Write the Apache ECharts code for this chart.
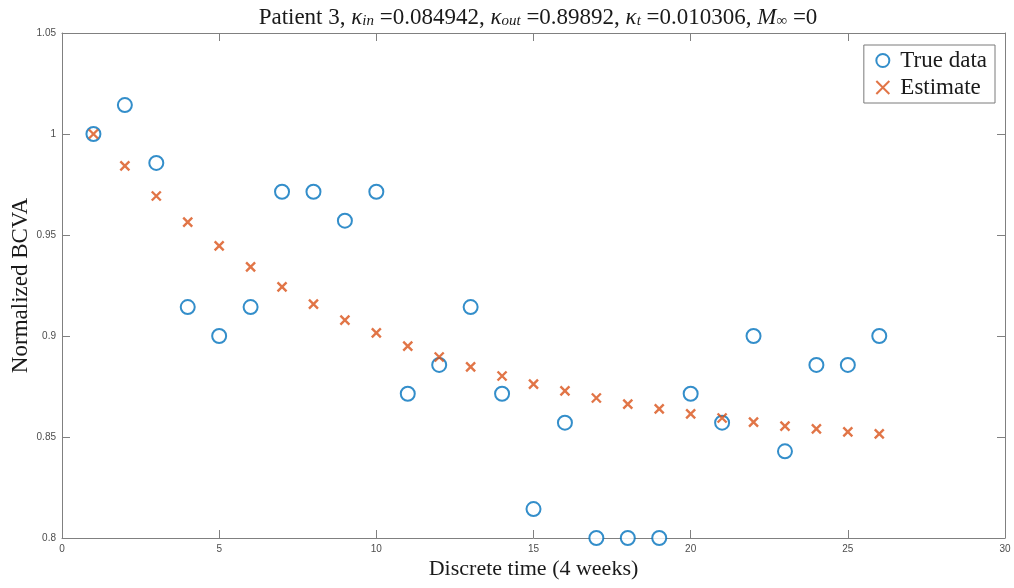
<!DOCTYPE html>
<html><head><meta charset="utf-8">
<script src="https://cdn.jsdelivr.net/npm/echarts@6/dist/echarts.min.js"></script>
<style>html,body{margin:0;padding:0;background:#fff}#c{width:1014px;height:588px}</style>
</head><body><div id="c"></div>
<script>
const times = [1,2,3,4,5,6,7,8,9,10,11,12,13,14,15,16,17,18,19,20,21,22,23,24,25,26];
const trueData = [1.0,1.0143,0.9857,0.9143,0.9,0.9143,0.9714,0.9714,0.9571,0.9714,0.8714,0.8857,0.9143,0.8714,0.8143,0.8571,0.8,0.8,0.8,0.8714,0.8571,0.9,0.8429,0.8857,0.8857,0.9];
const estimate = [1.0,0.9842,0.9693,0.9564,0.9446,0.9342,0.9243,0.9158,0.9079,0.9015,0.895,0.8896,0.8847,0.8802,0.8762,0.8728,0.8693,0.8663,0.8639,0.8614,0.8594,0.8574,0.8554,0.854,0.8525,0.8515];
const xTicks = [0,5,10,15,20,25,30];
const yTicks = [0.8,0.85,0.9,0.95,1,1.05];

const serif = '"Liberation Serif","DejaVu Serif",serif';
const sans = '"Liberation Sans",Arial,sans-serif';
const axisCol = '#808080';
const chart = echarts.init(document.getElementById('c'));
const pair = arr => arr.map((v,i)=>[times[i], v]);
const common = {
  axisLine:{show:true,onZero:false,lineStyle:{color:axisCol,width:1}},
  axisTick:{show:true,inside:true,length:8,lineStyle:{color:axisCol}},
  splitLine:{show:false}
};
chart.setOption({
  animation:false,
  backgroundColor:'#fff',
  title:{
    text:'Patient 3, {i|κ}{s|in} =0.084942, {i|κ}{s|out} =0.89892, {i|κ}{s|t} =0.010306, {i|M}{s|∞} =0',
    left:533, textAlign:'center', top:1,
    textStyle:{fontFamily:serif,fontSize:23,fontWeight:'normal',color:'#1a1a1a',
      rich:{
        i:{fontFamily:serif,fontSize:23,fontStyle:'italic',color:'#1a1a1a'},
        s:{fontFamily:serif,fontSize:15,fontStyle:'italic',color:'#1a1a1a',verticalAlign:'bottom',lineHeight:4}
      }}
  },
  legend:{
    orient:'vertical', right:19, top:45,
    padding:[4,8,4,10], itemGap:4, itemWidth:13, itemHeight:13,
    borderColor:'#7a7a7a', borderWidth:1, backgroundColor:'#fff',
    textStyle:{fontFamily:serif,fontSize:23,color:'#1a1a1a',padding:[0,0,0,6]},
    data:['True data','Estimate']
  },
  grid:{left:62,right:9,top:33,bottom:50,containLabel:false,outerBoundsMode:'none'},
  xAxis:[
    Object.assign({type:'value',min:0,max:30,interval:5,position:'bottom',
      name:'Discrete time (4 weeks)',nameLocation:'middle',nameGap:20,nameMoveOverlap:false,
      nameTextStyle:{fontFamily:serif,fontSize:22,color:'#1a1a1a'},
      axisLabel:{fontFamily:sans,fontSize:10,color:'#4d4d4d',margin:6}},common),
    Object.assign({type:'value',min:0,max:30,interval:5,position:'top',axisLabel:{show:false}},common)
  ],
  yAxis:[
    Object.assign({type:'value',min:0.8,max:1.05,interval:0.05,position:'left',
      name:'Normalized BCVA',nameLocation:'middle',nameGap:30,nameMoveOverlap:false,
      nameTextStyle:{fontFamily:serif,fontSize:23,color:'#1a1a1a'},
      axisLabel:{fontFamily:sans,fontSize:10,color:'#4d4d4d',margin:6,
        formatter:v=>String(+v.toFixed(2))}},common),
    Object.assign({type:'value',min:0.8,max:1.05,interval:0.05,position:'right',axisLabel:{show:false}},common)
  ],
  series:[
    {name:'True data',type:'scatter',data:pair(trueData),clip:false,
      symbol:'emptyCircle',symbolSize:14,
      itemStyle:{color:'#0072BD',borderColor:'#0072BD',borderWidth:2.4}},
    {name:'Estimate',type:'scatter',data:pair(estimate),clip:false,
      symbol:'path://M0,0L10,10M10,0L0,10',symbolSize:9,
      itemStyle:{color:'none',borderColor:'#D95319',borderWidth:2.4}}
  ]
});
</script></body></html>
